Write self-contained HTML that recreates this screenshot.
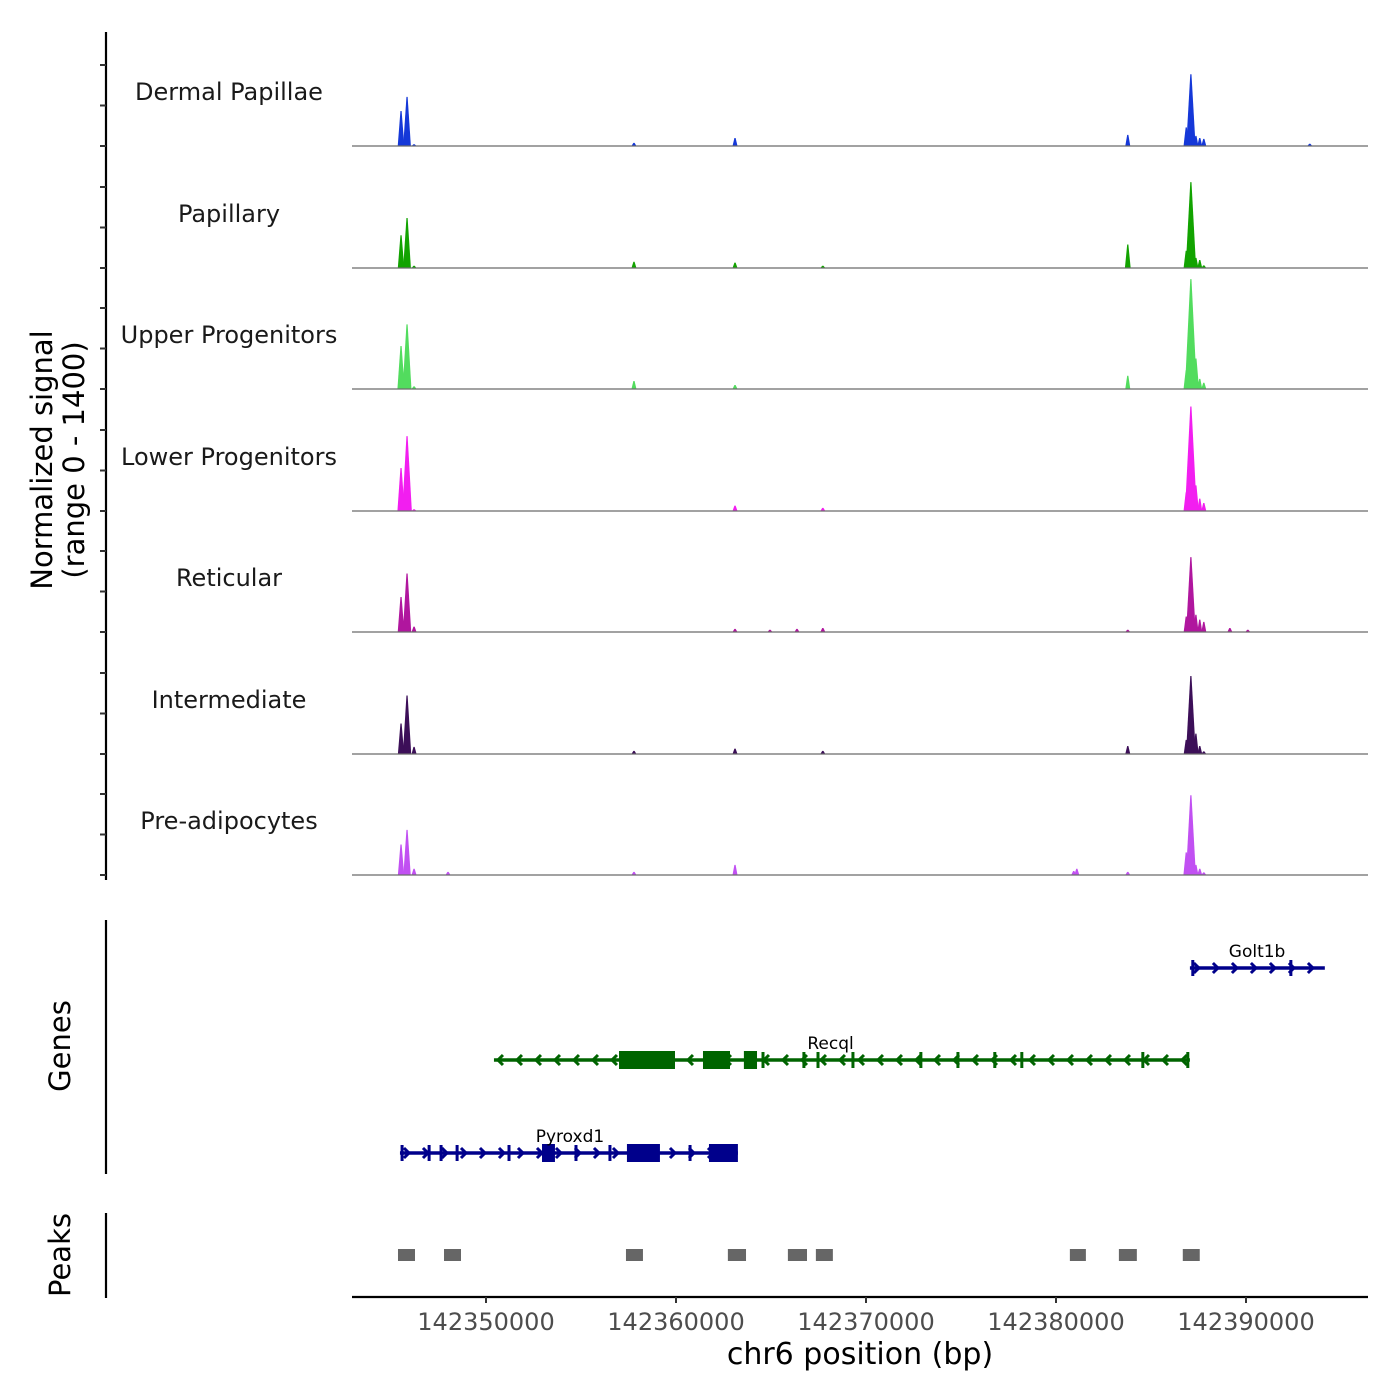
<!DOCTYPE html>
<html><head><meta charset="utf-8"><style>
body{margin:0;background:#fff}
svg{display:block;font-family:"DejaVu Sans","Liberation Sans",sans-serif}
</style></head><body>
<svg id="chart" width="1400" height="1400" viewBox="0 0 1400 1400" xmlns="http://www.w3.org/2000/svg"></svg>
<script>
const trackNames=["Dermal Papillae","Papillary","Upper Progenitors","Lower Progenitors","Reticular","Intermediate","Pre-adipocytes"];
const trackColors=["#1538d8","#12a300","#52dc5e","#f21ef0","#b0169e","#3c0f58","#c150f2"];
const peakPos=[142345528,142345844,142346213,142348001,142357788,142363106,142364945,142366367,142367728,142380933,142381096,142383778,142386855,142387099,142387363,142387566,142387779,142389151,142390096,142393357];
const sigDP =[395,555,20,0,35,90,0,0,0,0,0,125,210,810,115,90,80,0,0,25];
const sigPap=[370,565,25,0,70,60,0,0,25,0,0,265,195,970,115,90,30,0,0,0];
const sigUP =[485,730,30,0,90,45,0,0,0,0,0,150,210,1240,345,115,70,0,0,0];
const sigLP =[485,845,20,0,0,60,0,0,35,0,0,0,210,1180,290,140,90,0,0,0];
const sigRet=[395,660,60,0,0,35,25,35,45,0,0,25,175,845,195,140,115,45,25,0];
const sigInt=[345,660,80,0,35,60,0,0,35,0,0,90,160,880,230,90,30,0,0,0];
const sigPre=[345,510,70,35,35,115,0,0,0,45,70,35,255,900,115,70,30,0,0,0];
const signals=[sigDP,sigPap,sigUP,sigLP,sigRet,sigInt,sigPre];
const peakStarts=[142345368,142347790,142357367,142362730,142365889,142367362,142380730,142383310,142386673];
const peakEnds  =[142346263,142348684,142358261,142363685,142366895,142368256,142381573,142384255,142387566];
const xTicks=[142350000,142360000,142370000,142380000,142390000];
const genes=[
 {name:"Golt1b",strand:1,start:142387048,end:142394149,color:"#00008b",row:0,label:142390583,
  thick:[],thin:[142387200,142392361]},
 {name:"Recql",strand:-1,start:142350419,end:142387048,color:"#006400",row:1,label:142368134,
  thick:[[142357001,142359947],[142361420,142362842],[142363573,142364264]],
  thin:[142364579,142366732,142367474,142369313,142372888,142374839,142376779,142378201,142384570,142386937]},
 {name:"Pyroxd1",strand:1,start:142345472,end:142363258,color:"#00008b",row:2,label:142354421,
  thick:[[142352948,142353629],[142357418,142359155],[142361735,142363258]],
  thin:[142345583,142347006,142347635,142348479,142351211,142354736,142356524,142360739]}
];
const NS="http://www.w3.org/2000/svg";
const svg=document.getElementById('chart');
function X(bp){return 486+(bp-142350000)*0.019;}
function el(t,a,p){const e=document.createElementNS(NS,t);for(const k in a)e.setAttribute(k,a[k]);(p||svg).appendChild(e);return e;}
const baselines=[146,268,389,511,632,754,875];
function Y(v,i){return baselines[i]-v/1400*124;}
let ax=el('line',{x1:106,y1:32,x2:106,y2:880,stroke:'#000','stroke-width':2.2});


for(let i=0;i<7;i++){for(let k=0;k<3;k++){const y=baselines[i]-k*40.5;
 const t=el('line',{x1:100,y1:y,x2:106,y2:y,stroke:'#333','stroke-width':2});
 
 }}
const yt=el('text',{transform:'translate(52,460) rotate(-90)','text-anchor':'middle','font-size':29});


yt.textContent='Normalized signal';
const yt2=el('text',{transform:'translate(84,460) rotate(-90)','text-anchor':'middle','font-size':29});


yt2.textContent='(range 0 - 1400)';
for(let i=0;i<7;i++){
 const g=el('g',{});
 
 
 const lb=el('text',{x:229,y:baselines[i]-46,'text-anchor':'middle','font-size':24,fill:'#1a1a1a'},g);
 
 
 lb.textContent=trackNames[i];
 const s=signals[i];
 for(let j=0;j<peakPos.length;j++){
  if(s[j]<=0)continue;
  const x=X(peakPos[j]),w=Math.max(2.5,Math.min(6,2+s[j]/300));
  const p=el('polygon',{points:`${x-w},${baselines[i]} ${x-0.6},${Y(s[j],i)} ${x+0.6},${Y(s[j],i)} ${x+w},${baselines[i]}`,fill:trackColors[i]},g);
  
  
 }
 const bl=el('line',{x1:352,y1:baselines[i],x2:1368,y2:baselines[i],stroke:'#6b6b6b','stroke-width':1.3},g);
 
 
}
const ga=el('line',{x1:106,y1:920,x2:106,y2:1174,stroke:'#000','stroke-width':2.2});


const gt=el('text',{transform:'translate(70,1046) rotate(-90)','text-anchor':'middle','font-size':29});


gt.textContent='Genes';
const rowY=[968,1060,1153];
genes.forEach(gn=>{
 const g=el('g',{});
 
 
 const y=rowY[gn.row],x1=X(gn.start),x2=X(gn.end),c=gn.color;
 el('line',{x1:x1,y1:y,x2:x2,y2:y,stroke:c,'stroke-width':3.5},g);
 for(let x=x1+4;x<x2-2;x+=19){
  const d=gn.strand>0?`M${x},${y-5} L${x+5},${y} L${x},${y+5}`:`M${x+5},${y-5} L${x},${y} L${x+5},${y+5}`;
  el('path',{d:d,stroke:c,'stroke-width':3,fill:'none'},g);
 }
 gn.thin.forEach(b=>{const r=el('rect',{x:X(b)-1.5,y:y-8,width:3,height:16,fill:c},g);
  
  });
 gn.thick.forEach(e=>{const r=el('rect',{x:X(e[0]),y:y-9,width:X(e[1])-X(e[0]),height:18,fill:c},g);
  
  });
 const t=el('text',{x:X(gn.label),y:y-11,'text-anchor':'middle','font-size':17,fill:'#000'},g);
 
 
 t.textContent=gn.name;
});
const pa=el('line',{x1:106,y1:1213,x2:106,y2:1298,stroke:'#000','stroke-width':2.2});


const pt=el('text',{transform:'translate(70,1255) rotate(-90)','text-anchor':'middle','font-size':29});


pt.textContent='Peaks';
for(let i=0;i<peakStarts.length;i++){
 const r=el('rect',{x:X(peakStarts[i]),y:1249,width:X(peakEnds[i])-X(peakStarts[i]),height:12,fill:'#666'});
 
 
}
const xa=el('line',{x1:352,y1:1297,x2:1368,y2:1297,stroke:'#000','stroke-width':2.2});


xTicks.forEach(v=>{
 const x=X(v);
 const t=el('line',{x1:x,y1:1297,x2:x,y2:1303,stroke:'#333','stroke-width':2});
 
 
 const l=el('text',{x:x,y:1330,'text-anchor':'middle','font-size':24,fill:'#4d4d4d'});
 
 
 l.textContent=v;
});
const xt=el('text',{x:860,y:1364,'text-anchor':'middle','font-size':30});


xt.textContent='chr6 position (bp)';
</script>
</body></html>
